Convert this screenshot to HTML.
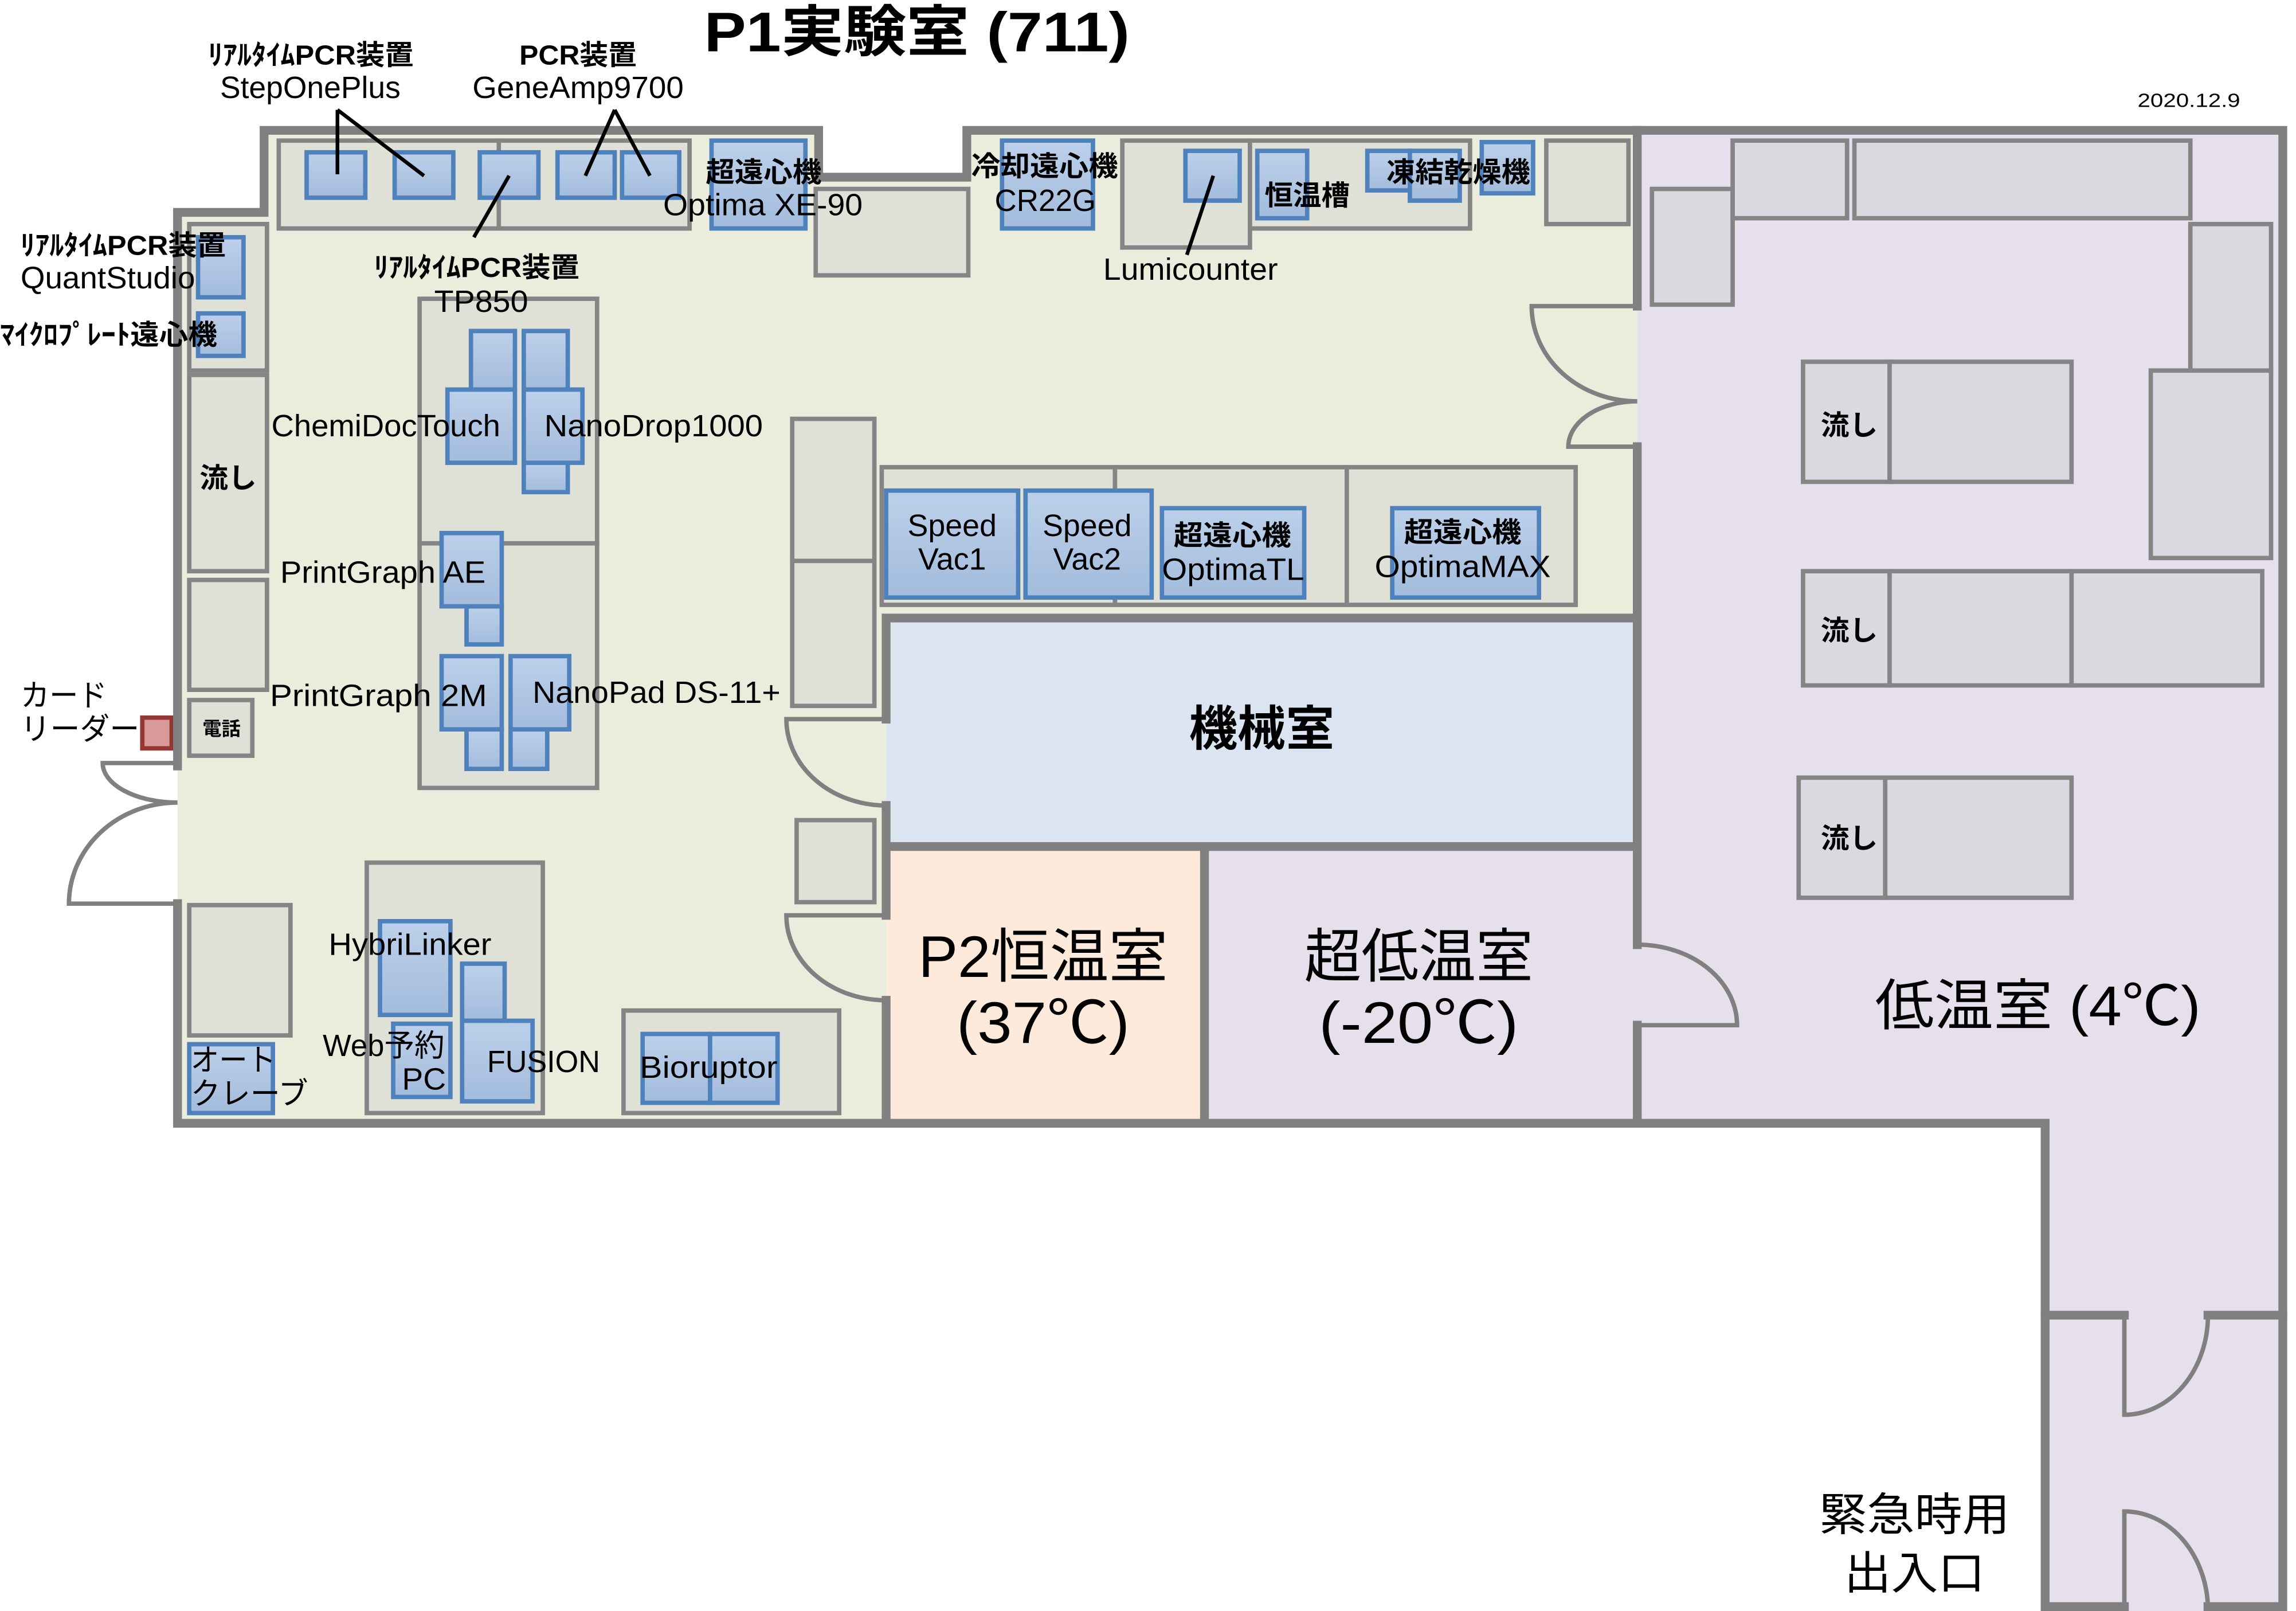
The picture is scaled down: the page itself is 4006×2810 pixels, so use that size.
<!DOCTYPE html>
<html><head><meta charset="utf-8"><style>
html,body{margin:0;padding:0;background:#fff;}
svg{display:block;}
text{font-family:"Liberation Sans","Noto Sans CJK JP",sans-serif;fill:#000;}
.f{fill:#dfe1d6;stroke:#858585;stroke-width:3;}
.g{fill:#dbd8e0;stroke:#858585;stroke-width:3;}
.b{fill:url(#bl);stroke:#4f81bd;stroke-width:3;}
.w{fill:none;stroke:#808080;stroke-width:6;stroke-linecap:square;}
.d{fill:none;stroke:#808080;stroke-width:3;}
.l{stroke:#000;stroke-width:2.5;}
.s{font-size:19px;font-weight:bold;}
.m{font-size:21px;}
</style></head><body>
<svg width="4006" height="2810" viewBox="0 0 1565 1100" preserveAspectRatio="none" xmlns="http://www.w3.org/2000/svg">
<defs><linearGradient id="bl" x1="0" y1="0" x2="0" y2="1"><stop offset="0" stop-color="#bcd0ea"/><stop offset="1" stop-color="#a3bcdc"/></linearGradient></defs>
<rect width="1565" height="1100" fill="#fff"/>
<!-- floors -->
<polygon points="121,145 180,145 180,89 558,89 558,121 659,121 659,89 1116,89 1116,767 121,767" fill="#eaeddc"/>
<polygon points="1116,89 1556,89 1556,1100 1394,1100 1394,767 1116,767" fill="#e5e0ec"/>
<rect x="604" y="422" width="512" height="156" fill="#dbe5f1"/>
<rect x="604" y="578" width="217" height="189" fill="#fdeada"/>
<rect x="821" y="578" width="295" height="189" fill="#e5e0ec"/>

<!-- top benches -->
<rect class="f" x="190" y="96" width="150" height="60"/>
<rect class="f" x="340" y="96" width="130" height="60"/>
<rect class="b" x="209" y="104" width="40" height="31"/>
<rect class="b" x="269" y="104" width="40" height="31"/>
<rect class="b" x="327" y="104" width="40" height="31"/>
<rect class="b" x="380" y="104" width="39" height="31"/>
<rect class="b" x="424" y="104" width="39" height="31"/>
<rect class="b" x="485" y="96" width="64" height="60"/>
<rect class="f" x="556" y="129" width="104" height="59"/>
<rect class="b" x="683" y="96" width="62" height="60"/>
<rect class="f" x="765" y="96" width="87" height="73"/>
<rect class="f" x="852" y="96" width="150" height="60"/>
<rect class="b" x="808" y="103" width="37" height="34"/>
<rect class="b" x="857" y="103" width="34" height="46"/>
<rect class="b" x="932" y="103" width="30" height="27"/>
<rect class="b" x="961" y="103" width="34" height="34"/>
<rect class="b" x="1010" y="97" width="35" height="35"/>
<rect class="f" x="1054" y="96" width="56" height="57"/>

<!-- left column -->
<rect class="f" x="129" y="153" width="53" height="100"/>
<rect class="b" x="135" y="162" width="31" height="41"/>
<rect class="b" x="135" y="214" width="31" height="29"/>
<rect class="f" x="129" y="256" width="53" height="134"/>
<rect class="f" x="129" y="396" width="53" height="75"/>
<rect class="f" x="129" y="478" width="43" height="38"/>
<rect x="97" y="490" width="20" height="21" fill="#d99a9a" stroke="#953735" stroke-width="3"/>

<!-- island -->
<rect class="f" x="286" y="204" width="121" height="167"/>
<rect class="f" x="286" y="371" width="121" height="167"/>
<rect class="b" x="321" y="226" width="30" height="40"/>
<rect class="b" x="357" y="226" width="30" height="40"/>
<rect class="b" x="357" y="316" width="30" height="20"/>
<rect class="b" x="305" y="266" width="46" height="50"/>
<rect class="b" x="357" y="266" width="40" height="50"/>
<rect class="b" x="318" y="414" width="24" height="26"/>
<rect class="b" x="301" y="364" width="41" height="50"/>
<rect class="b" x="318" y="498" width="24" height="27"/>
<rect class="b" x="301" y="448" width="41" height="50"/>
<rect class="b" x="348" y="498" width="25" height="27"/>
<rect class="b" x="348" y="448" width="40" height="50"/>

<rect class="f" x="540" y="286" width="56" height="97"/>
<rect class="f" x="540" y="383" width="56" height="99"/>
<rect class="f" x="543" y="560" width="53" height="56"/>

<!-- bench row -->
<rect class="f" x="601" y="319" width="159" height="94"/>
<rect class="f" x="760" y="319" width="158" height="94"/>
<rect class="f" x="918" y="319" width="156" height="94"/>
<rect class="b" x="604" y="335" width="90" height="73"/>
<rect class="b" x="699" y="335" width="86" height="73"/>
<rect class="b" x="792" y="347" width="97" height="61"/>
<rect class="b" x="949" y="347" width="100" height="61"/>

<!-- bottom left -->
<rect class="f" x="129" y="618" width="69" height="89"/>
<rect class="b" x="129" y="713" width="57" height="47"/>
<rect class="f" x="250" y="589" width="120" height="171"/>
<rect class="b" x="259" y="629" width="48" height="64"/>
<rect class="b" x="315" y="658" width="29" height="39"/>
<rect class="b" x="315" y="697" width="48" height="55"/>
<rect class="b" x="268" y="699" width="39" height="50"/>
<rect class="f" x="425" y="690" width="147" height="70"/>
<rect class="b" x="438" y="706" width="46" height="47"/>
<rect class="b" x="484" y="706" width="46" height="47"/>

<!-- cold room furniture -->
<rect class="g" x="1126" y="129" width="55" height="79"/>
<rect class="g" x="1181" y="96" width="78" height="53"/>
<rect class="g" x="1264" y="96" width="229" height="53"/>
<rect class="g" x="1493" y="153" width="55" height="100"/>
<rect class="g" x="1466" y="253" width="82" height="128"/>
<rect class="g" x="1229" y="247" width="59" height="82"/>
<rect class="g" x="1288" y="247" width="124" height="82"/>
<rect class="g" x="1229" y="390" width="59" height="78"/>
<rect class="g" x="1288" y="390" width="124" height="78"/>
<rect class="g" x="1412" y="390" width="130" height="78"/>
<rect class="g" x="1226" y="531" width="59" height="82"/>
<rect class="g" x="1285" y="531" width="127" height="82"/>

<!-- walls -->
<path class="w" d="M121,523 V145 H180 V89 H558 V121 H659 V89 H1556 V1097 M121,617 V767 H1394 V1097 H1448 M1505,1097 H1556"/>
<path class="w" d="M1116,89 V209 M1116,305 V645 M1116,700 V767 M604,422 H1116 M604,422 V491 M604,550 V625 M604,683 V767 M604,578 H1116 M821,578 V767 M1394,898 H1448 M1505,898 H1556"/>
<!-- doors -->
<path class="d" d="M121,521 H70 A51,27 0 0 0 121,548 M121,617 H47 A74,69 0 0 1 121,548"/>
<path class="d" d="M1116,209 H1044 A72,65 0 0 0 1116,274 M1116,305 H1069 A47,31 0 0 1 1116,274"/>
<path class="d" d="M604,491 H536 A68,59 0 0 0 604,550"/>
<path class="d" d="M604,625 H536 A68,58 0 0 0 604,683"/>
<path class="d" d="M1116,700 H1184 A68,55 0 0 0 1116,645"/>
<path class="d" d="M1448,898 V966 A57,68 0 0 0 1505,898 M1448,1097 V1032 A57,68 0 0 1 1505,1097"/>

<!-- leader lines -->
<line class="l" x1="230" y1="75" x2="230" y2="119"/>
<line class="l" x1="230" y1="75" x2="289" y2="120"/>
<line class="l" x1="419" y1="75" x2="399" y2="120"/>
<line class="l" x1="419" y1="75" x2="443" y2="120"/>
<line class="l" x1="347" y1="120" x2="323" y2="162"/>
<line class="l" x1="827" y1="120" x2="809" y2="174"/>

<!-- texts -->
<text x="480" y="35" font-size="38" font-weight="bold" textLength="290" lengthAdjust="spacingAndGlyphs">P1実験室 (711)</text>
<text x="1457" y="73" font-size="13" textLength="70" lengthAdjust="spacingAndGlyphs">2020.12.9</text>
<text class="s" x="142" y="44" textLength="140" lengthAdjust="spacingAndGlyphs">ﾘｱﾙﾀｲﾑPCR装置</text>
<text class="m" x="150" y="67" textLength="123" lengthAdjust="spacingAndGlyphs">StepOnePlus</text>
<text class="s" x="354" y="44" textLength="80" lengthAdjust="spacingAndGlyphs">PCR装置</text>
<text class="m" x="322" y="67" textLength="144" lengthAdjust="spacingAndGlyphs">GeneAmp9700</text>
<text class="s" x="481" y="124" textLength="79" lengthAdjust="spacingAndGlyphs">超遠心機</text>
<text class="m" x="452" y="147" textLength="136" lengthAdjust="spacingAndGlyphs">Optima XE-90</text>
<text class="s" x="662" y="120" textLength="100" lengthAdjust="spacingAndGlyphs">冷却遠心機</text>
<text class="m" x="678" y="144" textLength="69" lengthAdjust="spacingAndGlyphs">CR22G</text>
<text class="m" x="752" y="191" textLength="119" lengthAdjust="spacingAndGlyphs">Lumicounter</text>
<text class="s" x="862" y="140" textLength="58" lengthAdjust="spacingAndGlyphs">恒温槽</text>
<text class="s" x="945" y="124" textLength="98" lengthAdjust="spacingAndGlyphs">凍結乾燥機</text>
<text class="s" x="14" y="174" textLength="140" lengthAdjust="spacingAndGlyphs">ﾘｱﾙﾀｲﾑPCR装置</text>
<text class="m" x="14" y="197" textLength="119" lengthAdjust="spacingAndGlyphs">QuantStudio</text>
<text class="s" x="0" y="235" textLength="148" lengthAdjust="spacingAndGlyphs">ﾏｲｸﾛﾌﾟﾚｰﾄ遠心機</text>
<text class="s" x="255" y="189" textLength="140" lengthAdjust="spacingAndGlyphs">ﾘｱﾙﾀｲﾑPCR装置</text>
<text class="m" x="296" y="213" textLength="64" lengthAdjust="spacingAndGlyphs">TP850</text>
<text class="m" x="185" y="298" textLength="156" lengthAdjust="spacingAndGlyphs">ChemiDocTouch</text>
<text class="m" x="371" y="298" textLength="149" lengthAdjust="spacingAndGlyphs">NanoDrop1000</text>
<text class="s" x="136" y="333" textLength="39" lengthAdjust="spacingAndGlyphs">流し</text>
<text class="m" x="191" y="398" textLength="140" lengthAdjust="spacingAndGlyphs">PrintGraph AE</text>
<text class="m" x="184" y="482" textLength="148" lengthAdjust="spacingAndGlyphs">PrintGraph 2M</text>
<text class="m" x="363" y="480" textLength="169" lengthAdjust="spacingAndGlyphs">NanoPad DS-11+</text>
<text class="m" x="14" y="482" textLength="59" lengthAdjust="spacingAndGlyphs">カード</text>
<text class="m" x="14" y="505" textLength="81" lengthAdjust="spacingAndGlyphs">リーダー</text>
<text x="138" y="502" font-size="13" font-weight="bold" textLength="26" lengthAdjust="spacingAndGlyphs">電話</text>
<text class="m" x="649" y="366" text-anchor="middle">Speed</text>
<text class="m" x="649" y="389" text-anchor="middle">Vac1</text>
<text class="m" x="741" y="366" text-anchor="middle">Speed</text>
<text class="m" x="741" y="389" text-anchor="middle">Vac2</text>
<text class="s" x="800" y="372" textLength="80" lengthAdjust="spacingAndGlyphs">超遠心機</text>
<text class="m" x="792" y="396" textLength="97" lengthAdjust="spacingAndGlyphs">OptimaTL</text>
<text class="s" x="957" y="370" textLength="80" lengthAdjust="spacingAndGlyphs">超遠心機</text>
<text class="m" x="937" y="394" textLength="120" lengthAdjust="spacingAndGlyphs">OptimaMAX</text>
<text x="860" y="509" font-size="33" font-weight="bold" text-anchor="middle">機械室</text>
<text x="711" y="667" font-size="40" text-anchor="middle" textLength="170" lengthAdjust="spacingAndGlyphs">P2恒温室</text>
<text x="711" y="712" font-size="40" text-anchor="middle" textLength="118" lengthAdjust="spacingAndGlyphs">(37℃)</text>
<text x="967" y="667" font-size="40" text-anchor="middle" textLength="156" lengthAdjust="spacingAndGlyphs">超低温室</text>
<text x="967" y="712" font-size="40" text-anchor="middle" textLength="136" lengthAdjust="spacingAndGlyphs">(-20℃)</text>
<text x="1278" y="700" font-size="38" textLength="222" lengthAdjust="spacingAndGlyphs">低温室 (4℃)</text>
<text class="s" x="1241" y="297" textLength="39" lengthAdjust="spacingAndGlyphs">流し</text>
<text class="s" x="1241" y="437" textLength="39" lengthAdjust="spacingAndGlyphs">流し</text>
<text class="s" x="1241" y="579" textLength="39" lengthAdjust="spacingAndGlyphs">流し</text>
<text x="1240" y="1045" font-size="31" textLength="130" lengthAdjust="spacingAndGlyphs">緊急時用</text>
<text x="1257" y="1085" font-size="31" textLength="96" lengthAdjust="spacingAndGlyphs">出入口</text>
<text class="m" x="224" y="652" textLength="111" lengthAdjust="spacingAndGlyphs">HybriLinker</text>
<text class="m" x="220" y="721" textLength="83" lengthAdjust="spacingAndGlyphs">Web予約</text>
<text class="m" x="274" y="744" textLength="30" lengthAdjust="spacingAndGlyphs">PC</text>
<text class="m" x="332" y="732" textLength="77" lengthAdjust="spacingAndGlyphs">FUSION</text>
<text class="m" x="436" y="736" textLength="94" lengthAdjust="spacingAndGlyphs">Bioruptor</text>
<text class="m" x="130" y="731" textLength="58" lengthAdjust="spacingAndGlyphs">オート</text>
<text class="m" x="130" y="754" textLength="80" lengthAdjust="spacingAndGlyphs">クレーブ</text>
</svg>
</body></html>
